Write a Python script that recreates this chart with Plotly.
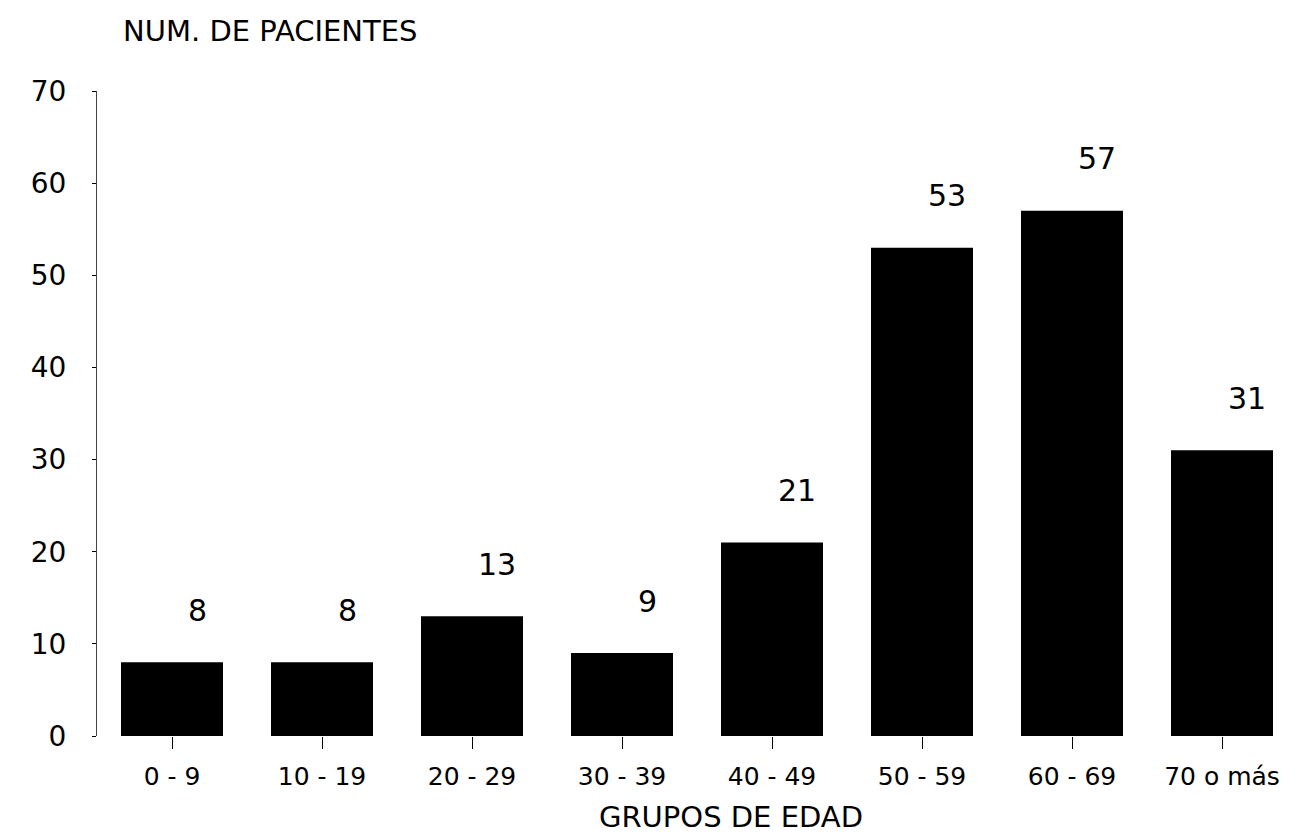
import plotly.graph_objects as go

categories = ["0 - 9", "10 - 19", "20 - 29", "30 - 39", "40 - 49", "50 - 59", "60 - 69", "70 o más"]
pacientes = [8, 8, 13, 9, 21, 53, 57, 31]
y_ticks = [0, 10, 20, 30, 40, 50, 60, 70]

FONT = "DejaVu Sans, Liberation Sans, Arial, sans-serif"

fig = go.Figure()
fig.add_trace(go.Bar(
    x=categories, y=pacientes,
    marker=dict(color="black", line=dict(width=0)),
    width=0.68,
))

for c, v in zip(categories, pacientes):
    fig.add_annotation(x=c, y=v, text=str(v), showarrow=False,
                       xanchor="center", yanchor="middle", xshift=25, yshift=52,
                       font=dict(family=FONT, size=30, color="black"))

fig.add_annotation(xref="paper", yref="paper", x=0.02, y=1.093,
                   text="NUM. DE PACIENTES", showarrow=False,
                   xanchor="left", yanchor="middle",
                   font=dict(family=FONT, size=29, color="black"))
fig.add_annotation(xref="paper", yref="paper", x=0.528, y=-0.126,
                   text="GRUPOS DE EDAD", showarrow=False,
                   xanchor="center", yanchor="middle",
                   font=dict(family=FONT, size=29, color="black"))

fig.update_layout(
    width=1299, height=838,
    margin=dict(l=89, r=10, t=83, b=110),
    paper_bgcolor="white", plot_bgcolor="white",
    showlegend=False,
    font=dict(family=FONT, color="black"),
)
fig.update_xaxes(
    showgrid=False, zeroline=False, showline=False,
    ticks="outside", ticklen=12, tickcolor="black", tickwidth=1,
    tickfont=dict(family=FONT, size=25, color="black"),
    ticklabelstandoff=6,
)
fig.update_yaxes(
    range=[0, 70], tickvals=y_ticks,
    showgrid=False, zeroline=False,
    showline=True, linecolor="#444", linewidth=1,
    ticks="outside", ticklen=4, tickcolor="black",
    tickfont=dict(family=FONT, size=28, color="black"),
    ticklabelstandoff=20,
)

fig.write_html("out.html")
